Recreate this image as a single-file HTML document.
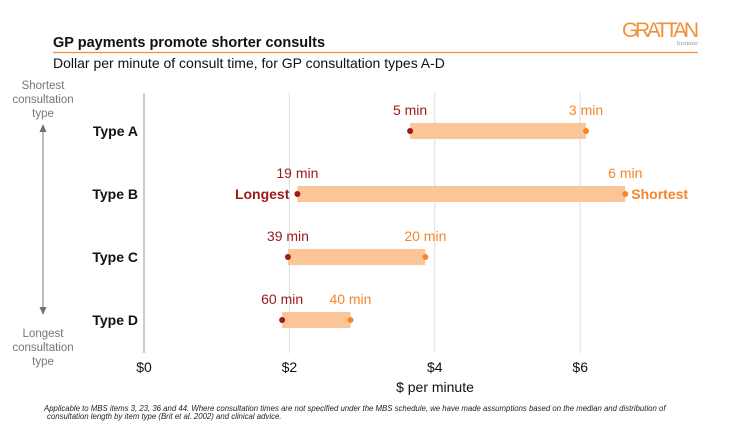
<!DOCTYPE html>
<html><head><meta charset="utf-8"><style>
body{margin:0;width:754px;height:424px;background:#fff;overflow:hidden;font-family:"Liberation Sans",sans-serif;}
svg{display:block}
</style></head><body>
<svg id="chart" width="754" height="424">
<text x="53" y="47" font-size="14.5" font-weight="bold" fill="#111">GP payments promote shorter consults</text>
<line x1="53" y1="52.5" x2="698" y2="52.5" stroke="#f0913a" stroke-width="1.3"/>
<text x="53" y="68" font-size="14" fill="#111">Dollar per minute of consult time, for GP consultation types A-D</text>
<text x="698" y="37" font-size="21" fill="#f0913a" text-anchor="end" textLength="76" letter-spacing="-1">GRATTAN</text>
<text x="698" y="45" font-size="6.5" fill="#999" text-anchor="end" font-family="Liberation Serif,serif">Institute</text>
<g font-size="11.5" fill="#777" text-anchor="middle">
<text x="43" y="89">Shortest</text><text x="43" y="103">consultation</text><text x="43" y="117">type</text>
<text x="43" y="337">Longest</text><text x="43" y="351">consultation</text><text x="43" y="365">type</text>
</g>
<line x1="43" y1="130" x2="43" y2="308" stroke="#777" stroke-width="1"/>
<polygon points="39.5,132 46.5,132 43,124" fill="#6b7280"/>
<polygon points="39.5,307 46.5,307 43,315" fill="#6b7280"/>
<g id="grid"></g>
<g id="marks"></g>
<text x="435" y="392" font-size="14" fill="#111" text-anchor="middle">$ per minute</text>
<g font-size="7.8" font-style="italic" fill="#222">
<text x="44" y="411">Applicable to MBS items 3, 23, 36 and 44. Where consultation times are not specified under the MBS schedule, we have made assumptions based on the median and distribution of</text>
<text x="47" y="419">consultation length by item type (Brit et al. 2002) and clinical advice.</text>
</g>
</svg>
<script>
const categories=["Type A","Type B","Type C","Type D"];
const longValues=[3.66,2.11,1.98,1.90];
const shortValues=[6.08,6.62,3.87,2.84];
const longLabels=["5 min","19 min","39 min","60 min"];
const shortLabels=["3 min","6 min","20 min","40 min"];
const xTicks=[0,2,4,6];
const xTickLabels=["$0","$2","$4","$6"];
const NS="http://www.w3.org/2000/svg";
function x(v){return 144+v*72.7;}
function y(i){return 131+i*63;}
function mk(tag,attrs,parent,txt){const e=document.createElementNS(NS,tag);for(const k in attrs)e.setAttribute(k,attrs[k]);if(txt!==undefined)e.textContent=txt;parent.appendChild(e);return e;}
const grid=document.getElementById('grid'),marks=document.getElementById('marks');
xTicks.forEach((t,i)=>{
 if(t>0){const g=mk('line',{x1:x(t),x2:x(t),y1:93,y2:353,stroke:'#ddd','stroke-width':1},grid);
 
 }
 const l=mk('text',{x:x(t),y:372,'font-size':14,'text-anchor':'middle',fill:'#111'},grid,xTickLabels[i]);
 
 
});
const ax=mk('line',{x1:144,x2:144,y1:93,y2:353,stroke:'#ccc','stroke-width':2},grid);


categories.forEach((c,i)=>{
 const cy=y(i);
 const cl=mk('text',{x:138,y:cy+5,'font-size':14,'font-weight':'bold','text-anchor':'end',fill:'#111'},marks,c);
 
 
 const b=mk('rect',{x:x(longValues[i]),y:cy-8,width:x(shortValues[i])-x(longValues[i]),height:16,fill:'#fbc597'},marks);
 
 
 const d1=mk('circle',{cx:x(longValues[i]),cy:cy,r:3,fill:'#9b1a1a'},marks);
 
 
 const d2=mk('circle',{cx:x(shortValues[i]),cy:cy,r:3,fill:'#f5862a'},marks);
 
 
 const t1=mk('text',{x:x(longValues[i]),y:cy-16,'font-size':14,'text-anchor':'middle',fill:'#9b1a1a'},marks,longLabels[i]);
 
 
 const t2=mk('text',{x:x(shortValues[i]),y:cy-16,'font-size':14,'text-anchor':'middle',fill:'#f5862a'},marks,shortLabels[i]);
 
 
 if(i===1){
  const a=mk('text',{x:x(longValues[i])-8,y:cy+5,'font-size':14,'font-weight':'bold','text-anchor':'end',fill:'#9b1a1a'},marks,'Longest');
  
  
  const b2=mk('text',{x:x(shortValues[i])+6,y:cy+5,'font-size':14,'font-weight':'bold',fill:'#f5862a'},marks,'Shortest');
  
  
 }
});
</script>
</body></html>
